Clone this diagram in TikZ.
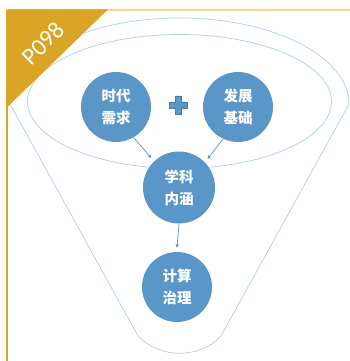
\documentclass[tikz,border=0pt]{standalone}
\usepackage{fontspec}
\newfontfamily\cjk{Noto Sans CJK SC}
\newfontfamily\lab{Carlito}
\usetikzlibrary{arrows.meta}
\definecolor{cblue}{HTML}{5B96C8}
\definecolor{fline}{HTML}{AFCDEB}
\definecolor{gold}{HTML}{DAA424}
\definecolor{goldl}{HTML}{F2D58A}
\definecolor{arr}{HTML}{5A8FC2}
\tikzset{
  circ/.style={circle,fill=cblue,minimum size=70pt,inner sep=0pt,text=white,
    font=\cjk\bfseries\fontsize{14.5}{22}\selectfont,align=center},
  funnel/.style={draw=fline,line width=0.7pt},
  conn/.style={draw=arr,line width=0.7pt,-{Stealth[length=4pt,width=3.5pt]}}
}
\begin{document}
\begin{tikzpicture}[x=1pt,y=1pt]
\useasboundingbox (0,0) rectangle (350,361);
\fill[white] (0,0) rectangle (350,361);
% funnel
\draw[funnel] (10,257) arc[start angle=180,end angle=0,x radius=169.5,y radius=86]
  -- (221,25) .. controls (200,2) and (160,2) .. (138,25) -- cycle;
\draw[funnel] (179.5,259.5) ellipse[x radius=152,y radius=67];
% frame
\draw[goldl,line width=1.2pt] (7,351) -- (350,351);
\draw[gold,line width=1.2pt] (7,351) -- (7,0);
\fill[gold] (6.4,351.6) -- (108,351.6) -- (6.4,253) -- cycle;
\node[rotate=45,text=white,font=\lab\fontsize{24}{24}\selectfont] (lbl) at (43,318) {P098};
% circles
\node[circ] (A) at (116,254) {时代\\需求};
\node[circ] (B) at (238,254) {发展\\基础};
\node[circ,minimum size=72pt] (C) at (179,173.5) {学科\\内涵};
\node[circ] (D) at (177,74) {计算\\治理};
% plus
\fill[cblue,draw=cblue!80!black,line width=0.3pt]
  (175,265) -- (181,265) -- (181,259) -- (187,259) -- (187,253) -- (181,253) -- (181,247)
  -- (175,247) -- (175,253) -- (169,253) -- (169,259) -- (175,259) -- cycle;
% arrows
\draw[conn] (A.-60) -- ([shift={(-3,3)}]C.133);
\draw[conn] (B.-115) -- ([shift={(3,3)}]C.45);
\draw[conn] (C.south) -- ([yshift=4pt]D.north);
\end{tikzpicture}
\end{document}
